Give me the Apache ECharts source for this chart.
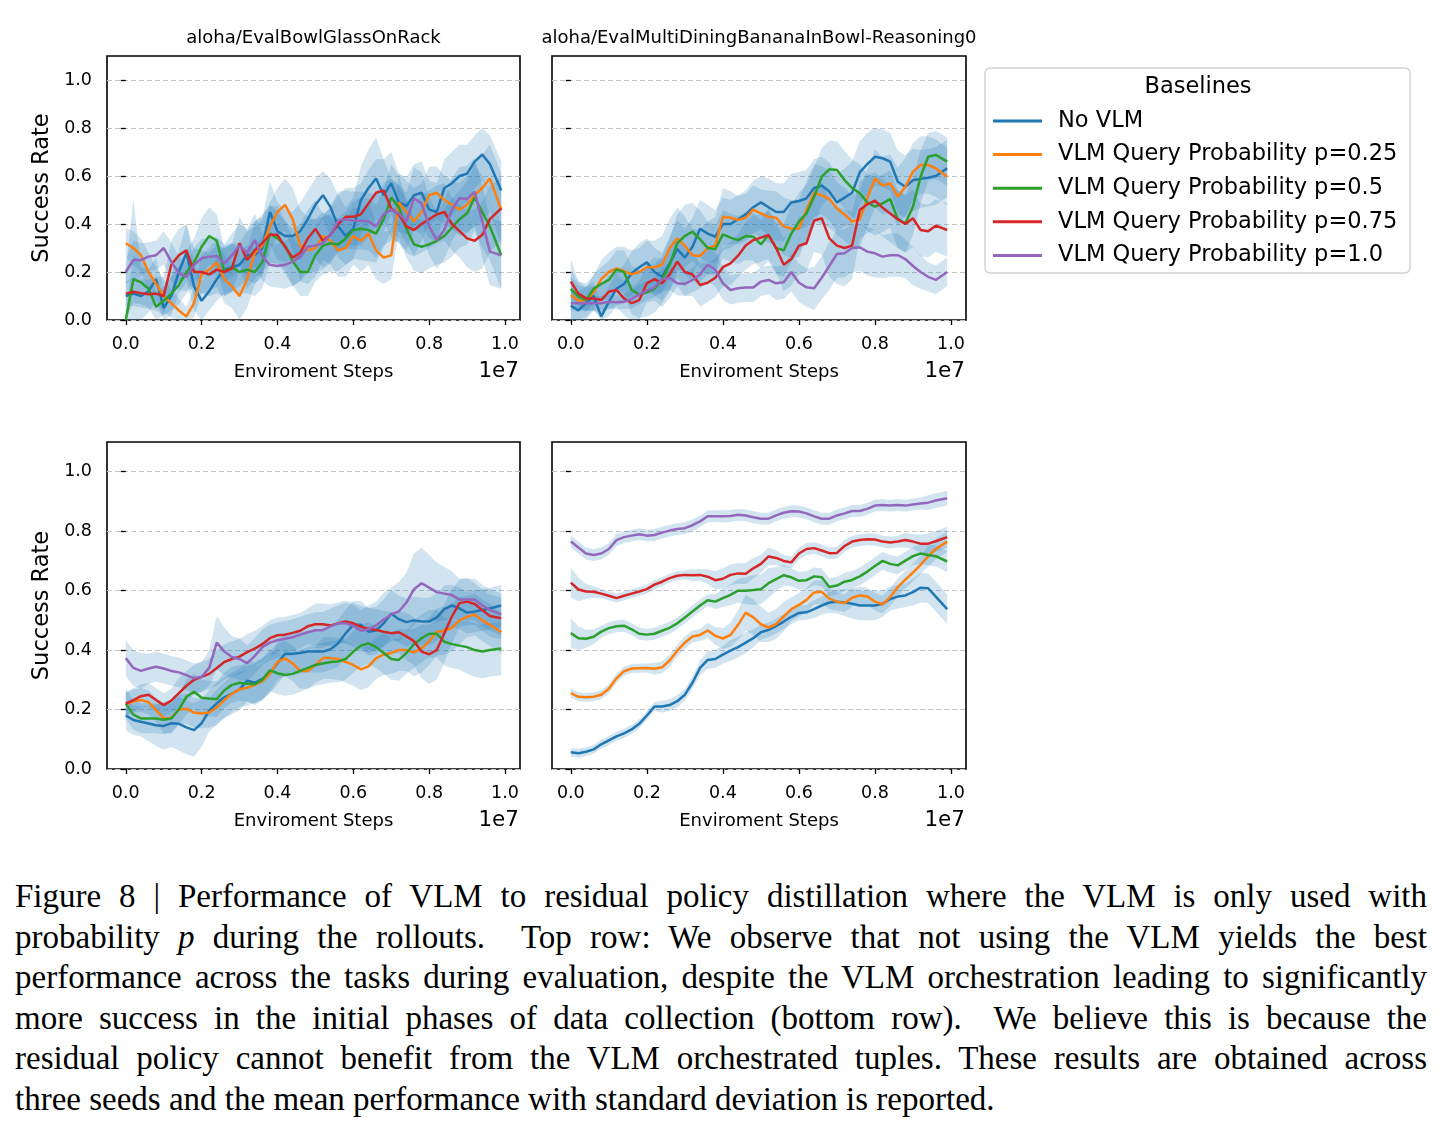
<!DOCTYPE html>
<html>
<head>
<meta charset="utf-8">
<title>VLM query probability</title>
<script src="https://cdn.jsdelivr.net/npm/echarts@6/dist/echarts.min.js"></script>
<style>
  html, body { margin: 0; padding: 0; background: #fff; }
  #chart { width: 1443px; height: 870px; }
  #caption {
    position: absolute; left: 15px; top: 876px; width: 1412px;
    font-family: 'Liberation Serif', 'DejaVu Serif', serif;
    font-size: 33px; line-height: 40.5px; color: #000;
  }
  #caption div { text-align: justify; text-align-last: justify; }
  #caption div.last { text-align-last: left; }
</style>
</head>
<body>
<div id="chart"></div>
<div id="caption">
  <div>Figure 8 | Performance of VLM to residual policy distillation where the VLM is only used with</div>
  <div>probability <i>p</i> during the rollouts.&nbsp; Top row: We observe that not using the VLM yields the best</div>
  <div>performance across the tasks during evaluation, despite the VLM orchestration leading to significantly</div>
  <div>more success in the initial phases of data collection (bottom row).&nbsp; We believe this is because the</div>
  <div>residual policy cannot benefit from the VLM orchestrated tuples. These results are obtained across</div>
  <div class="last">three seeds and the mean performance with standard deviation is reported.</div>
</div>
<script>
// environment steps (x 1e7)
var steps = [0, .02, .04, .06, .08, .1, .12, .14, .16, .18, .2, .22, .24, .26, .28, .3, .32, .34, .36, .38,
  .4, .42, .44, .46, .48, .5, .52, .54, .56, .58, .6, .62, .64, .66, .68, .7, .72, .74, .76, .78,
  .8, .82, .84, .86, .88, .9, .92, .94, .96, .99];
var seriesNames = ['No VLM', 'VLM Query Probability p=0.25', 'VLM Query Probability p=0.5',
  'VLM Query Probability p=0.75', 'VLM Query Probability p=1.0'];
var seriesColors = ['#1f77b4', '#ff7f0e', '#2ca02c', '#d62728', '#9467bd'];
var panelTitles = ['aloha/EvalBowlGlassOnRack', 'aloha/EvalMultiDiningBananaInBowl-Reasoning0', '', ''];
var xTickValues = [0, 0.2, 0.4, 0.6, 0.8, 1.0];
var yTickValues = [0, 0.2, 0.4, 0.6, 0.8, 1.0];

// top left: evaluation, bowl glass on rack (mean per baseline)
var glassEvalMean = [
  [.10,.11,.10,.12,.17,.05,.10,.20,.28,.14, .08,.12,.17,.21,.22,.23,.27,.27,.30,.45,
   .37,.35,.35,.37,.42,.48,.52,.47,.39,.35, .38,.50,.55,.59,.52,.57,.49,.475,.52,.53,
   .46,.45,.55,.57,.60,.61,.66,.69,.65,.54],
  [.32,.30,.27,.20,.15,.10,.07,.04,.015,.07, .19,.21,.24,.17,.14,.10,.17,.28,.31,.39,
   .45,.48,.42,.31,.29,.30,.35,.33,.29,.30, .35,.33,.36,.29,.26,.27,.49,.45,.41,.45,
   .52,.53,.50,.48,.46,.48,.52,.55,.59,.46],
  [.00,.17,.157,.13,.055,.08,.11,.146,.20,.24, .305,.35,.33,.20,.22,.20,.21,.20,.24,.36,
   .34,.31,.245,.20,.20,.27,.31,.32,.315,.34, .375,.38,.375,.36,.42,.51,.47,.38,.315,.305,
   .315,.33,.35,.385,.42,.445,.51,.45,.39,.27],
  [.11,.118,.112,.107,.11,.10,.23,.27,.29,.20, .20,.19,.21,.20,.215,.32,.25,.29,.32,.355,
   .355,.305,.26,.28,.34,.38,.33,.355,.40,.43, .43,.44,.486,.53,.54,.465,.44,.39,.375,.40,
   .42,.44,.45,.40,.37,.34,.33,.355,.42,.465],
  [.20,.25,.25,.264,.27,.30,.243,.195,.18,.23, .257,.264,.267,.236,.27,.31,.28,.333,.264,.23,
   .225,.23,.243,.264,.305,.31,.32,.355,.414,.42, .414,.414,.41,.39,.44,.46,.444,.41,.507,.486,
   .39,.333,.375,.46,.507,.504,.535,.41,.285,.27]
];
var glassEvalStd = [
  [.10,.40,.12,.09,.09,.08,.08,.09,.12,.10, .08,.08,.09,.10,.10,.09,.10,.12,.12,.13,
   .12,.11,.10,.12,.12,.11,.10,.12,.13,.12, .13,.14,.16,.17,.15,.13,.12,.12,.13,.13,
   .12,.12,.12,.13,.13,.12,.11,.11,.12,.12],
  [.06,.07,.07,.08,.07,.07,.06,.05,.04,.06, .08,.09,.10,.10,.09,.10,.12,.13,.12,.10,
   .10,.11,.13,.15,.14,.12,.10,.10,.11,.12, .12,.13,.13,.12,.11,.10,.12,.13,.14,.12,
   .12,.11,.10,.10,.11,.12,.13,.14,.14,.15],
  [.04,.10,.09,.08,.06,.06,.07,.08,.09,.10, .12,.12,.11,.10,.10,.09,.10,.10,.11,.12,
   .11,.10,.10,.10,.10,.11,.12,.12,.11,.11, .12,.13,.13,.12,.12,.14,.13,.12,.11,.11,
   .10,.10,.11,.12,.12,.13,.14,.15,.14,.14],
  [.05,.06,.06,.06,.07,.08,.10,.11,.11,.10, .09,.09,.10,.10,.10,.11,.12,.12,.12,.12,
   .12,.11,.12,.12,.12,.12,.11,.11,.12,.12, .12,.13,.14,.14,.13,.12,.12,.11,.11,.12,
   .12,.12,.12,.11,.11,.12,.13,.14,.14,.13],
  [.05,.08,.07,.06,.06,.07,.08,.07,.06,.07, .08,.08,.08,.08,.09,.09,.10,.11,.10,.09,
   .09,.10,.10,.10,.11,.11,.11,.12,.12,.12, .12,.12,.12,.13,.13,.13,.12,.12,.13,.13,
   .12,.12,.12,.13,.13,.14,.14,.15,.14,.14]
];

// top right: evaluation, banana in bowl
var bananaEvalMean = [
  [.06,.04,.07,.10,.014,.076,.13,.15,.195,.22, .24,.20,.18,.236,.296,.26,.305,.38,.36,.347,
   .40,.40,.42,.44,.47,.49,.47,.45,.45,.49, .496,.507,.55,.56,.535,.49,.51,.53,.615,.65,
   .68,.674,.66,.576,.555,.583,.588,.593,.60,.632],
  [.104,.08,.083,.115,.17,.20,.215,.204,.19,.20, .22,.22,.23,.30,.34,.31,.27,.267,.30,.31,
   .43,.426,.417,.426,.46,.444,.43,.426,.39,.38, .38,.46,.53,.52,.504,.465,.44,.41,.42,.507,
   .59,.56,.57,.514,.555,.618,.646,.646,.632,.597],
  [.13,.097,.083,.13,.15,.167,.21,.20,.125,.107, .115,.13,.167,.23,.32,.35,.368,.336,.30,.295,
   .357,.343,.333,.35,.347,.315,.354,.30,.29,.36, .41,.444,.514,.597,.628,.625,.583,.55,.528,.49,
   .472,.486,.504,.42,.403,.472,.597,.68,.688,.66],
  [.16,.11,.09,.09,.083,.118,.125,.09,.07,.083, .153,.17,.153,.19,.243,.20,.19,.146,.155,.176,
   .22,.236,.268,.31,.333,.343,.354,.30,.23,.254, .31,.32,.414,.424,.34,.31,.30,.31,.458,.482,
   .497,.468,.444,.42,.40,.424,.375,.37,.393,.375],
  [.07,.07,.07,.07,.07,.076,.074,.076,.087,.107, .122,.136,.17,.176,.153,.15,.167,.19,.23,.21,
   .153,.125,.132,.135,.135,.16,.167,.153,.157,.20, .155,.136,.132,.176,.225,.275,.278,.30,.303,.285,
   .278,.264,.27,.27,.254,.225,.20,.18,.167,.20]
];
var bananaEvalStd = [
  [.06,.08,.07,.06,.05,.06,.07,.08,.09,.10, .10,.10,.10,.11,.12,.12,.12,.12,.12,.11,
   .11,.10,.10,.10,.11,.11,.12,.12,.12,.12, .12,.12,.12,.12,.12,.12,.12,.13,.13,.13,
   .12,.12,.12,.13,.13,.13,.12,.12,.12,.12],
  [.15,.08,.07,.07,.08,.08,.09,.10,.10,.10, .11,.11,.12,.12,.13,.12,.11,.11,.11,.12,
   .12,.11,.10,.10,.10,.10,.11,.11,.12,.12, .12,.12,.12,.12,.12,.11,.11,.11,.12,.12,
   .12,.12,.12,.12,.12,.12,.12,.12,.12,.12],
  [.05,.05,.05,.06,.07,.08,.08,.09,.10,.10, .10,.10,.10,.11,.12,.13,.12,.12,.11,.10,
   .10,.10,.10,.10,.10,.10,.11,.11,.11,.12, .12,.12,.12,.12,.12,.12,.12,.12,.12,.12,
   .12,.12,.12,.12,.12,.12,.11,.10,.10,.10],
  [.05,.05,.05,.05,.06,.07,.07,.07,.07,.08, .08,.09,.10,.10,.10,.10,.09,.09,.08,.08,
   .08,.09,.09,.10,.10,.10,.10,.10,.11,.11, .12,.12,.13,.15,.16,.16,.16,.14,.12,.12,
   .12,.12,.12,.12,.12,.12,.11,.11,.11,.11],
  [.03,.03,.03,.03,.03,.03,.03,.03,.04,.04, .04,.04,.05,.05,.05,.05,.05,.06,.07,.07,
   .07,.06,.06,.06,.06,.06,.06,.07,.07,.08, .08,.08,.09,.09,.10,.10,.10,.10,.10,.10,
   .10,.09,.09,.09,.08,.08,.07,.06,.06,.06]
];

// bottom left: data collection, bowl glass on rack
var glassCollectMean = [
  [.18,.165,.159,.153,.147,.145,.154,.152,.14,.131, .154,.196,.221,.241,.254,.268,.297,.29,.303,.323,
   .356,.388,.388,.39,.395,.395,.395,.403,.423,.457, .485,.485,.462,.466,.49,.522,.504,.494,.50,.496,
   .496,.51,.538,.55,.54,.526,.53,.535,.54,.55],
  [.215,.228,.232,.225,.198,.17,.172,.20,.203,.19, .187,.19,.207,.232,.253,.268,.273,.283,.295,.32,
   .36,.372,.355,.33,.33,.35,.373,.373,.37,.36, .35,.335,.345,.373,.385,.39,.40,.40,.392,.405,
   .43,.462,.465,.475,.50,.512,.52,.50,.485,.46],
  [.22,.183,.17,.17,.17,.166,.17,.20,.243,.26, .24,.237,.235,.265,.283,.29,.287,.285,.30,.332,
   .322,.316,.32,.33,.34,.35,.355,.36,.362,.37, .395,.415,.423,.41,.39,.37,.367,.39,.42,.44,
   .455,.455,.428,.42,.415,.41,.40,.395,.40,.405],
  [.22,.232,.245,.25,.232,.215,.23,.255,.28,.30, .31,.32,.34,.36,.37,.378,.393,.405,.42,.44,
   .45,.452,.458,.465,.48,.487,.487,.483,.49,.496, .49,.478,.472,.468,.462,.457,.46,.446,.43,.395,
   .386,.40,.457,.513,.558,.563,.555,.535,.515,.507],
  [.373,.34,.33,.338,.344,.338,.33,.325,.316,.305, .31,.34,.425,.395,.377,.37,.356,.38,.41,.425,
   .433,.438,.443,.452,.46,.467,.468,.48,.49,.49, .482,.465,.47,.483,.503,.52,.53,.56,.605,.625,
   .61,.595,.59,.585,.57,.57,.57,.55,.535,.52]
];
var glassCollectStd = [
  [.05,.05,.05,.06,.07,.08,.08,.09,.09,.09, .08,.07,.07,.07,.07,.07,.07,.07,.07,.07,
   .07,.07,.07,.07,.07,.07,.07,.07,.08,.08, .08,.08,.08,.08,.08,.08,.08,.08,.08,.08,
   .08,.08,.08,.07,.07,.07,.07,.07,.07,.07],
  [.04,.04,.04,.04,.04,.05,.05,.05,.05,.05, .05,.05,.06,.06,.06,.06,.06,.06,.06,.06,
   .06,.06,.06,.06,.06,.06,.07,.07,.07,.07, .07,.07,.07,.07,.07,.07,.07,.07,.08,.08,
   .08,.08,.08,.08,.08,.07,.07,.07,.07,.07],
  [.05,.05,.05,.05,.05,.05,.05,.05,.06,.06, .06,.06,.06,.06,.06,.06,.06,.07,.07,.07,
   .07,.07,.07,.07,.07,.07,.07,.07,.07,.07, .07,.07,.07,.07,.07,.07,.07,.07,.08,.08,
   .08,.08,.08,.08,.08,.09,.09,.09,.09,.09],
  [.04,.04,.04,.04,.04,.04,.04,.05,.05,.05, .05,.05,.06,.06,.06,.06,.06,.06,.06,.06,
   .06,.06,.06,.06,.06,.07,.07,.07,.07,.07, .07,.07,.07,.07,.07,.07,.07,.08,.08,.09,
   .10,.10,.10,.09,.08,.08,.07,.07,.07,.07],
  [.06,.06,.06,.05,.05,.05,.05,.05,.05,.05, .05,.06,.09,.08,.07,.07,.06,.06,.06,.06,
   .06,.06,.06,.06,.06,.06,.06,.06,.06,.07, .07,.07,.08,.08,.09,.09,.10,.10,.12,.12,
   .11,.10,.09,.08,.07,.07,.07,.07,.07,.07]
];

// bottom right: data collection, banana in bowl
var bananaCollectMean = [
  [.056,.053,.058,.066,.083,.096,.11,.12,.133,.152, .18,.21,.21,.215,.228,.25,.29,.34,.367,.37,
   .385,.398,.41,.425,.44,.46,.468,.481,.496,.512, .525,.527,.538,.55,.56,.563,.56,.556,.55,.55,
   .55,.556,.572,.58,.584,.595,.61,.608,.58,.538],
  [.255,.243,.241,.243,.25,.27,.305,.329,.338,.339, .34,.337,.342,.365,.398,.425,.446,.451,.466,.448,
   .439,.451,.485,.526,.51,.487,.476,.487,.513,.538, .552,.569,.594,.596,.573,.563,.558,.576,.584,.58,
   .563,.554,.578,.612,.637,.661,.687,.715,.74,.765],
  [.457,.44,.438,.445,.462,.474,.48,.482,.47,.455, .452,.455,.465,.475,.49,.51,.53,.55,.568,.563,
   .575,.586,.60,.60,.602,.605,.625,.639,.652,.645, .633,.635,.648,.645,.612,.617,.63,.636,.648,.664,
   .683,.70,.69,.685,.701,.716,.725,.72,.716,.698],
  [.627,.604,.597,.596,.59,.583,.575,.583,.59,.597, .605,.62,.63,.642,.65,.653,.652,.653,.647,.635,
   .64,.653,.658,.657,.675,.69,.715,.71,.70,.695, .725,.74,.743,.735,.726,.727,.75,.765,.77,.773,
   .772,.765,.762,.765,.77,.765,.758,.758,.766,.78],
  [.765,.745,.725,.72,.725,.74,.77,.78,.785,.79, .785,.787,.795,.802,.807,.81,.82,.833,.85,.85,
   .85,.851,.855,.853,.847,.842,.842,.853,.862,.867, .866,.86,.85,.842,.842,.853,.86,.868,.868,.875,
   .886,.888,.886,.888,.886,.89,.893,.896,.903,.911]
];
var bananaCollectStd = [
  [.015,.015,.015,.015,.015,.015,.015,.015,.015,.015, .015,.015,.02,.02,.02,.02,.02,.025,.03,.03,
   .03,.035,.035,.035,.03,.025,.025,.025,.025,.025, .025,.025,.03,.03,.035,.04,.045,.05,.05,.05,
   .05,.045,.04,.04,.04,.045,.05,.05,.05,.05],
  [.015,.015,.015,.015,.015,.015,.015,.015,.015,.015, .015,.02,.02,.02,.02,.02,.02,.02,.025,.03,
   .035,.04,.05,.06,.06,.06,.05,.05,.05,.04, .04,.04,.04,.04,.035,.03,.03,.03,.03,.03,
   .03,.03,.03,.03,.03,.03,.03,.035,.035,.035],
  [.05,.04,.03,.025,.02,.02,.02,.02,.02,.02, .02,.02,.02,.02,.02,.02,.02,.02,.02,.025,
   .03,.035,.04,.045,.05,.05,.05,.04,.035,.03, .03,.03,.03,.03,.03,.03,.03,.03,.03,.03,
   .03,.03,.03,.03,.03,.03,.035,.035,.035,.035],
  [.05,.04,.025,.02,.015,.015,.015,.015,.015,.015, .015,.015,.015,.015,.015,.015,.02,.02,.025,.03,
   .035,.035,.035,.035,.035,.03,.03,.025,.02,.02, .02,.02,.02,.02,.02,.02,.02,.02,.02,.02,
   .02,.02,.02,.02,.025,.025,.03,.035,.035,.035],
  [.02,.02,.02,.02,.02,.02,.02,.02,.02,.02, .02,.02,.02,.02,.02,.02,.02,.02,.02,.02,
   .02,.02,.02,.02,.02,.02,.02,.02,.02,.02, .02,.02,.02,.02,.02,.02,.02,.02,.02,.02,
   .02,.02,.02,.02,.02,.02,.02,.025,.025,.025]
];

var panels = [
  { mean: glassEvalMean, sd: glassEvalStd },
  { mean: bananaEvalMean, sd: bananaEvalStd },
  { mean: glassCollectMean, sd: glassCollectStd },
  { mean: bananaCollectMean, sd: bananaCollectStd }
];

var FONT = 'DejaVu Sans';
var BAND = 'rgba(31,119,180,0.2)';
var grids = [
  { left: 107, top: 56, width: 413, height: 264 },
  { left: 552, top: 56, width: 414, height: 264 },
  { left: 107, top: 442, width: 413, height: 327 },
  { left: 552, top: 442, width: 414, height: 327 }
];

// mean +/- std drawn as one filled polygon through the grid's own axes
function bandSeries(p, m, sd) {
  var rows = steps.map(function (x, i) {
    return [x, Math.max(0, m[i] - sd[i]), Math.min(1.1, m[i] + sd[i])];
  });
  return {
    type: 'custom', name: 'band', xAxisIndex: p, yAxisIndex: p, silent: true, z: 1,
    encode: { x: 0, y: [1, 2] },
    data: rows,
    renderItem: function (params, api) {
      if (params.dataIndex !== 0) return null;
      var pts = [];
      rows.forEach(function (r) { pts.push(api.coord([r[0], r[2]])); });
      for (var i = rows.length - 1; i >= 0; i--) pts.push(api.coord([rows[i][0], rows[i][1]]));
      return { type: 'polygon', shape: { points: pts }, style: { fill: BAND } };
    }
  };
}

var chart = echarts.init(document.getElementById('chart'));

var gridOpts = [], xAxes = [], yAxes = [], series = [], graphics = [];

grids.forEach(function (g, p) {
  var leftCol = (p % 2 === 0);
  gridOpts.push({
    left: g.left, top: g.top, width: g.width, height: g.height,
    show: true, borderColor: '#000', borderWidth: 1.6, containLabel: false
  });
  xAxes.push({
    type: 'value', gridIndex: p, min: -0.0495, max: 1.0395,
    name: 'Enviroment Steps', nameLocation: 'middle', nameGap: 43,
    nameTextStyle: { fontFamily: FONT, fontSize: 18, color: '#000' },
    axisLine: { show: false },
    axisTick: { show: true, length: 5, customValues: xTickValues, lineStyle: { color: '#000', width: 1.3 } },
    axisLabel: {
      customValues: xTickValues, margin: 15, fontFamily: FONT, fontSize: 17.5, color: '#000',
      formatter: function (v) { return v.toFixed(1); }
    },
    splitLine: { show: false }
  });
  yAxes.push({
    type: 'value', gridIndex: p, min: 0, max: 1.1,
    name: leftCol ? 'Success Rate' : '', nameLocation: 'middle', nameGap: 53,
    nameTextStyle: { fontFamily: FONT, fontSize: 22.5, color: '#000' },
    axisLine: { show: false },
    axisTick: { show: true, length: 5, customValues: yTickValues, lineStyle: { color: '#000', width: 1.3 } },
    axisLabel: {
      show: leftCol, customValues: yTickValues, margin: 15, fontFamily: FONT, fontSize: 17.5, color: '#000',
      formatter: function (v) { return v.toFixed(1); }
    },
    splitLine: { show: true, lineStyle: { color: '#c4c4c4', width: 1.2, type: [5, 3] } }
  });

  var panel = panels[p];
  panel.mean.forEach(function (m, k) {
    series.push(bandSeries(p, m, panel.sd[k]));
  });
  panel.mean.forEach(function (m, k) {
    series.push({
      name: seriesNames[k], type: 'line', xAxisIndex: p, yAxisIndex: p,
      symbol: 'none', z: 3,
      itemStyle: { color: seriesColors[k] },
      lineStyle: { color: seriesColors[k], width: 2.5 },
      data: steps.map(function (x, i) { return [x, m[i]]; })
    });
  });

  if (panelTitles[p]) {
    graphics.push({
      type: 'text', x: g.left + g.width / 2, y: 38,
      style: { text: panelTitles[p], fill: '#000', font: '18px "DejaVu Sans"',
        align: 'center', verticalAlign: 'middle', textAlign: 'center', textVerticalAlign: 'middle' }
    });
  }
  graphics.push({
    type: 'text', x: g.left + g.width - 1, y: g.top + g.height + 51,
    style: { text: '1e7', fill: '#000', font: '21.5px "DejaVu Sans"',
      align: 'right', verticalAlign: 'middle', textAlign: 'right', textVerticalAlign: 'middle' }
  });
});

// legend frame and title
graphics.push({
  type: 'rect', z: 0,
  shape: { x: 985, y: 68, width: 425, height: 205, r: 5 },
  style: { fill: '#fff', stroke: '#d3d3d3', lineWidth: 1.5 }
});
graphics.push({
  type: 'text', x: 1198, y: 87.5, z: 1,
  style: { text: 'Baselines', fill: '#000', font: '22.5px "DejaVu Sans"',
    align: 'center', verticalAlign: 'middle', textAlign: 'center', textVerticalAlign: 'middle' }
});

var option = {
  animation: false,
  backgroundColor: '#fff',
  grid: gridOpts,
  xAxis: xAxes,
  yAxis: yAxes,
  legend: {
    data: seriesNames,
    orient: 'vertical', left: 993, top: 109, padding: 0, z: 5,
    icon: 'rect', itemWidth: 49, itemHeight: 3, itemGap: 9.6,
    selectedMode: false,
    textStyle: { fontFamily: FONT, fontSize: 22.5, color: '#000', lineHeight: 24, padding: [0, 0, 0, 11] }
  },
  graphic: graphics,
  series: series
};

chart.setOption(option);
</script>
</body>
</html>
